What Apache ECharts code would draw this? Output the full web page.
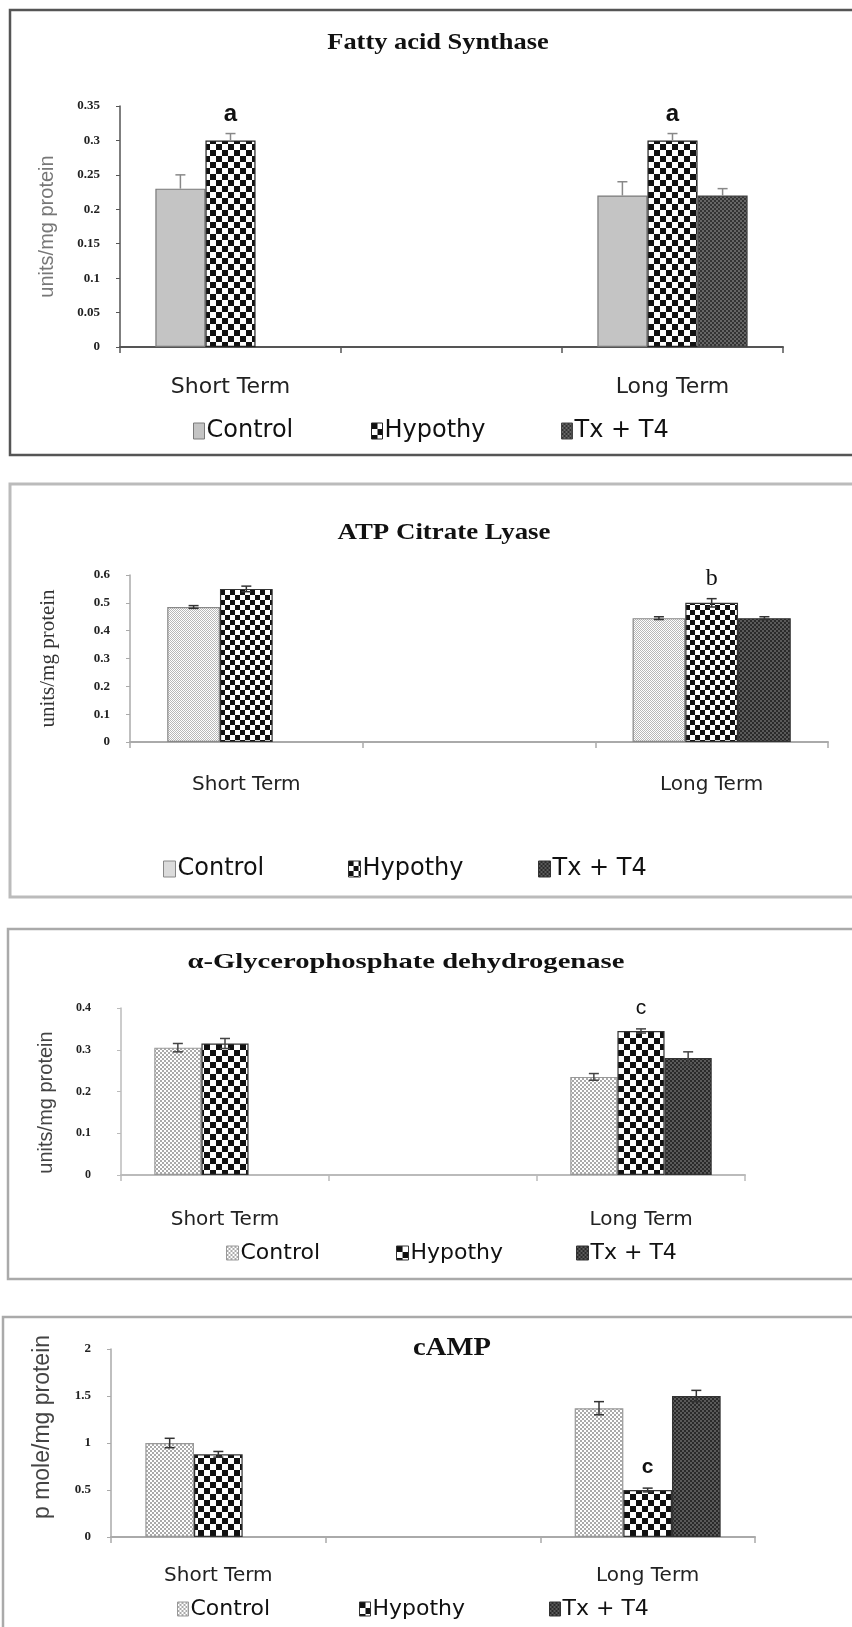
<!DOCTYPE html>
<html><head><meta charset="utf-8">
<script src="https://cdn.jsdelivr.net/npm/echarts@6/dist/echarts.min.js"></script>
<style>html,body{margin:0;padding:0;background:#fff;overflow:hidden}#c{width:852px;height:1627px}</style>
</head><body><div id="c"></div>
<script>
// ---------- data ----------
const categories = ['Short Term', '', 'Long Term'];
const groupNames = ['Control', 'Hypothy', 'Tx + T4'];

// Fatty acid Synthase (units/mg protein)
const fasControl = [0.23, null, 0.22];
const fasHypothy = [0.30, null, 0.30];
const fasTxT4    = [null, null, 0.22];
const fasControlErr = [0.02, null, 0.02];
const fasHypothyErr = [0.01, null, 0.01];
const fasTxT4Err    = [null, null, 0.01];
const fasLetters = ['a', '', 'a'];

// ATP Citrate Lyase (units/mg protein)
const aclControl = [0.485, null, 0.445];
const aclHypothy = [0.55, null, 0.50];
const aclTxT4    = [null, null, 0.445];
const aclControlErr = [0.005, null, 0.005];
const aclHypothyErr = [0.01, null, 0.015];
const aclTxT4Err    = [null, null, 0.005];
const aclLetters = ['', '', 'b'];

// alpha-Glycerophosphate dehydrogenase (units/mg protein)
const gpdControl = [0.305, null, 0.235];
const gpdHypothy = [0.315, null, 0.345];
const gpdTxT4    = [null, null, 0.28];
const gpdControlErr = [0.01, null, 0.008];
const gpdHypothyErr = [0.012, null, 0.005];
const gpdTxT4Err    = [null, null, 0.015];
const gpdLetters = ['', '', 'c'];

// cAMP (p mole/mg protein)
const campControl = [1.0, null, 1.37];
const campHypothy = [0.88, null, 0.50];
const campTxT4    = [null, null, 1.50];
const campControlErr = [0.05, null, 0.07];
const campHypothyErr = [0.03, null, 0.02];
const campTxT4Err    = [null, null, 0.06];
const campLetters = ['', '', 'c'];

// ---------- patterns ----------
function checker(sz, c1, c2) {
  const cv = document.createElement('canvas');
  cv.width = cv.height = sz * 2;
  const g = cv.getContext('2d');
  g.fillStyle = c1; g.fillRect(0, 0, sz * 2, sz * 2);
  g.fillStyle = c2; g.fillRect(0, 0, sz, sz); g.fillRect(sz, sz, sz, sz);
  return { image: cv, repeat: 'repeat' };
}

const SANS = "'Liberation Sans', Arial, sans-serif";
const WIDE = "'DejaVu Sans', Verdana, sans-serif";
const SERIF = "'Liberation Serif', 'Times New Roman', serif";

const panels = [
  { key: 'fas', title: 'Fatty acid Synthase', vals: [fasControl, fasHypothy, fasTxT4],
    errs: [fasControlErr, fasHypothyErr, fasTxT4Err], letters: fasLetters, errMode: 'plus',
    yMax: 0.35, yInt: 0.05, yName: 'units/mg protein',
    grid: { left: 120, top: 106, width: 663, height: 241 },
    titlePos: { x: 438, y: 43, size: 24, sx: 1.1 },
    fills: [ '#c4c4c4', checker(6, '#ffffff', '#111111'), checker(2, '#333333', '#666666') ],
    borders: ['#7a7a7a', '#222', '#444'],
    axisColor: '#555', errColor: '#888',
    yLabel: { size: 13, margin: 20 }, yNameStyle: { size: 20, color: '#777', family: SANS, gap: 63, pad: [0, 0, 0, 0] },
    cat: { size: 22, margin: 29, family: WIDE, color: '#222' },
    legend: { y: 419, xs: [193, 371, 561], size: 24, iw: 11, ih: 16, family: WIDE },
    letter: { size: 24, family: SANS, weight: 'bold', dist: 14 },
    box: { x: 10, y: 10, h: 445, color: '#555', lw: 2.5 } },
  { key: 'acl', title: 'ATP Citrate Lyase', vals: [aclControl, aclHypothy, aclTxT4],
    errs: [aclControlErr, aclHypothyErr, aclTxT4Err], letters: aclLetters, errMode: 'both',
    yMax: 0.6, yInt: 0.1, yName: 'units/mg protein',
    grid: { left: 130, top: 575, width: 698, height: 167 },
    titlePos: { x: 444, y: 533, size: 24, sx: 1.12 },
    fills: [ checker(1, '#ffffff', '#b8b8b8'), checker(5, '#ffffff', '#111111'), checker(2, '#2a2a2a', '#5a5a5a') ],
    borders: ['#888', '#333', '#333'],
    axisColor: '#aaa', errColor: '#333',
    yLabel: { size: 13, margin: 20 }, yNameStyle: { size: 21, color: '#333', family: SERIF, gap: 71, pad: [0, 0, 0, 0] },
    cat: { size: 20, margin: 33, family: WIDE, color: '#222' },
    legend: { y: 857, xs: [163, 348, 538], size: 24, iw: 12, ih: 16, family: WIDE },
    letter: { size: 24, family: SERIF, weight: 'normal', dist: 12 },
    box: { x: 10, y: 484, h: 413, color: '#bbb', lw: 3 } },
  { key: 'gpd', title: '\u03b1-Glycerophosphate dehydrogenase', vals: [gpdControl, gpdHypothy, gpdTxT4],
    errs: [gpdControlErr, gpdHypothyErr, gpdTxT4Err], letters: gpdLetters, errMode: 'both',
    yMax: 0.4, yInt: 0.1, yName: 'units/mg protein',
    grid: { left: 121, top: 1008, width: 624, height: 167 },
    titlePos: { x: 406, y: 962, size: 22, sx: 1.3 },
    fills: [ checker(2, '#ffffff', '#aaaaaa'), checker(6, '#ffffff', '#111111'), checker(2, '#2a2a2a', '#5a5a5a') ],
    borders: ['#999', '#333', '#333'],
    axisColor: '#bbb', errColor: '#444',
    yLabel: { size: 12, margin: 30 }, yNameStyle: { size: 20, color: '#444', family: SANS, gap: 65, pad: [0, 22, 0, 0] },
    cat: { size: 20, margin: 35, family: WIDE, color: '#222' },
    legend: { y: 1242, xs: [226, 396, 576], size: 22, iw: 12, ih: 14, family: WIDE },
    letter: { size: 21, family: SANS, weight: 'normal', dist: 12 },
    box: { x: 8, y: 929, h: 350, color: '#aaa', lw: 2.5 } },
  { key: 'camp', title: 'cAMP', vals: [campControl, campHypothy, campTxT4],
    errs: [campControlErr, campHypothyErr, campTxT4Err], letters: campLetters, errMode: 'both',
    yMax: 2, yInt: 0.5, yName: 'p mole/mg protein',
    grid: { left: 111, top: 1349, width: 644, height: 188 },
    titlePos: { x: 452, y: 1348, size: 26, sx: 1.1 },
    fills: [ checker(2, '#ffffff', '#aaaaaa'), checker(6, '#ffffff', '#111111'), checker(2, '#2a2a2a', '#5a5a5a') ],
    borders: ['#999', '#333', '#333'],
    axisColor: '#aaa', errColor: '#333',
    yLabel: { size: 13, margin: 20 }, yNameStyle: { size: 23, color: '#444', family: SANS, gap: 57, pad: [0, 0, 0, 32] },
    cat: { size: 20, margin: 29, family: WIDE, color: '#222' },
    legend: { y: 1598, xs: [177, 359, 549], size: 22, iw: 11, ih: 14, family: WIDE },
    letter: { size: 21, family: SANS, weight: 'bold', dist: 12 },
    box: { x: 3, y: 1317, h: 400, color: '#aaa', lw: 2.5 } }
];

const GAP = 0.32;
const option = { animation: false, backgroundColor: '#fff', legend: [], grid: [], xAxis: [], yAxis: [], series: [], graphic: [] };

panels.forEach((p, i) => {
  option.graphic.push({ type: 'rect', silent: true, z: -10,
    shape: { x: p.box.x, y: p.box.y, width: 1000, height: p.box.h },
    style: { fill: 'none', stroke: p.box.color, lineWidth: p.box.lw } });
  option.graphic.push({ type: 'text', silent: true, x: p.titlePos.x, y: p.titlePos.y, scaleX: p.titlePos.sx,
    style: { text: p.title, fill: '#111', font: 'bold ' + p.titlePos.size + 'px ' + SERIF,
      textAlign: 'center', textVerticalAlign: 'middle', align: 'center', verticalAlign: 'middle' } });
  option.grid.push(Object.assign({ containLabel: false }, p.grid));
  option.xAxis.push({ type: 'category', gridIndex: i, data: categories,
    axisLine: { lineStyle: { color: p.axisColor, width: 2 } },
    axisTick: { show: true, length: 6, inside: false, lineStyle: { color: p.axisColor, width: 1.5 } },
    axisLabel: { margin: p.cat.margin, fontSize: p.cat.size, fontFamily: p.cat.family, color: p.cat.color, interval: 0 },
    splitLine: { show: false } });
  option.yAxis.push({ type: 'value', gridIndex: i, min: 0, max: p.yMax, interval: p.yInt,
    name: p.yName, nameLocation: 'middle', nameGap: p.yNameStyle.gap, nameRotate: 90,
    nameTextStyle: { fontSize: p.yNameStyle.size, color: p.yNameStyle.color, fontFamily: p.yNameStyle.family, padding: p.yNameStyle.pad },
    axisLine: { show: true, lineStyle: { color: p.axisColor, width: 1.5 } },
    axisTick: { show: true, length: 4, lineStyle: { color: p.axisColor } },
    axisLabel: { margin: p.yLabel.margin, fontSize: p.yLabel.size, fontWeight: 'bold', fontFamily: SERIF, color: '#222' },
    splitLine: { show: false } });
  groupNames.forEach((g, j) => {
    const s = { type: 'bar', name: p.key + ':' + g, xAxisIndex: i, yAxisIndex: i,
      data: p.vals[j], barGap: '0%', barCategoryGap: (GAP * 100) + '%',
      itemStyle: { color: p.fills[j], borderColor: p.borders[j], borderWidth: 1.2 } };
    if (j === 1) {
      s.label = { show: true, position: 'top', distance: p.letter.dist,
        formatter: (prm) => p.letters[prm.dataIndex] || '',
        fontSize: p.letter.size, fontFamily: p.letter.family, fontWeight: p.letter.weight, color: '#111' };
    }
    option.series.push(s);
    option.legend.push({ data: [p.key + ':' + g], left: p.legend.xs[j], top: p.legend.y, padding: 0, itemGap: 0,
      itemWidth: p.legend.iw, itemHeight: p.legend.ih, icon: 'rect', selectedMode: false, itemStyle: { borderWidth: 1 },
      formatter: (n) => n.split(':')[1],
      textStyle: { fontSize: p.legend.size, fontFamily: p.legend.family, color: '#111', padding: [0, 0, 0, -3] } });
  });
  // error bars
  const errData = [];
  groupNames.forEach((g, j) => {
    p.vals[j].forEach((v, k) => { if (v != null && p.errs[j][k] != null) errData.push([k, v, p.errs[j][k], j]); });
  });
  option.series.push({ type: 'custom', name: p.key + ':err', xAxisIndex: i, yAxisIndex: i, z: 5,
    encode: { x: 0, y: 1 }, data: errData,
    renderItem: (params, api) => {
      const cat = api.value(0), v = api.value(1), e = api.value(2), j = api.value(3);
      const bw = api.size([1, 0])[0] * (1 - GAP) / 3;
      const x = api.coord([cat, v])[0] + (j - 1) * bw;
      const yt = api.coord([cat, v + e])[1];
      const yb = p.errMode === 'plus' ? api.coord([cat, v])[1] : api.coord([cat, v - e])[1];
      const st = { stroke: p.errColor, lineWidth: 1.5 };
      const kids = [
        { type: 'line', shape: { x1: x, y1: yt, x2: x, y2: yb }, style: st },
        { type: 'line', shape: { x1: x - 5, y1: yt, x2: x + 5, y2: yt }, style: st } ];
      if (p.errMode !== 'plus') kids.push({ type: 'line', shape: { x1: x - 5, y1: yb, x2: x + 5, y2: yb }, style: st });
      return { type: 'group', children: kids };
    } });
});

const chart = echarts.init(document.getElementById('c'), null, { renderer: 'canvas' });
chart.setOption(option);
</script></body></html>
